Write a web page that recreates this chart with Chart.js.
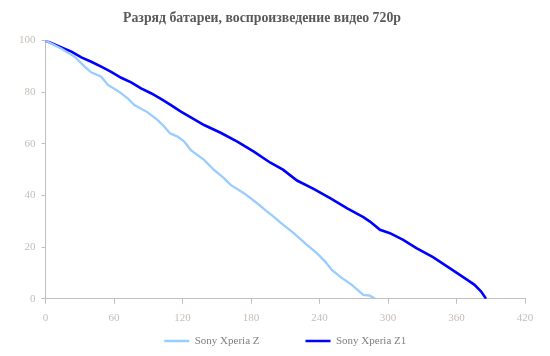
<!DOCTYPE html>
<html>
<head>
<meta charset="utf-8">
<script src="https://cdn.jsdelivr.net/npm/chart.js@4/dist/chart.umd.min.js"></script>
<style>
html,body{margin:0;padding:0;background:#fff;}
#wrap{width:550px;height:356px;}
</style>
</head>
<body>
<div id="wrap"><canvas id="c" width="550" height="356"></canvas></div>
<script>
const titleText = "Разряд батареи, воспроизведение видео 720p";
const seriesNames = ["Sony Xperia Z", "Sony Xperia Z1"];
const xTicks = [0, 60, 120, 180, 240, 300, 360, 420];
const yTicks = [0, 20, 40, 60, 80, 100];

const zMinutes = [0, 14, 25.6, 34.3, 40, 48.8, 54.7, 63.4, 72, 77.9, 89.5, 98.3, 104, 109, 115.7, 121.5, 127.3, 138.9, 147.6, 156.3, 162.2, 173.8, 185.4, 194.2, 201.4, 205.8, 217.4, 229, 237.7, 245, 250.8, 258, 268.3, 278.4, 284.2, 288.6];
const zLevel   = [100, 96.8, 93.7, 89.9, 87.7, 86, 82.8, 80.5, 77.6, 75, 72.2, 69.2, 66.7, 64.1, 62.8, 60.9, 57.6, 53.8, 49.9, 46.7, 44.1, 40.9, 37, 33.8, 31.2, 29.5, 25.4, 20.9, 17.7, 14.4, 11.2, 8.6, 5.4, 1.5, 1.2, 0];

const z1Minutes = [0, 14, 22.7, 31.4, 40.1, 48.8, 57.5, 66.3, 75, 83.7, 92.4, 101.1, 109.9, 118.6, 127.3, 138.9, 153.4, 168, 182.5, 197, 208, 220.3, 234.8, 249.3, 263.9, 278.4, 284.2, 293, 301.7, 313.3, 324.9, 339.4, 354, 368.5, 375.8, 381.6, 385.4, 386];
const z1Level   = [100, 97.3, 95.7, 93.5, 91.8, 89.9, 87.9, 85.6, 83.8, 81.5, 79.6, 77.4, 75, 72.5, 70.3, 67.3, 64.3, 60.9, 57, 52.7, 50, 45.8, 42.6, 39, 35.1, 31.6, 29.9, 26.7, 25.4, 22.8, 19.6, 16.1, 11.9, 7.6, 5.4, 2.8, 0.3, 0];

const toPts = (xs, ys) => xs.map((x, i) => ({x: x, y: ys[i]}));

const axisColor = '#bfbfbf';
const tickLabelColor = '#c4bdb6';
const serif = "'Liberation Serif', 'DejaVu Serif', serif";
const legendGap = 46;
const legendFont = 11;

// nudges the title/legend boxes after layout (Excel-like placement)
const boxNudge = {
  id: 'boxNudge',
  afterLayout(chart) {
    const t = chart.titleBlock;
    if (t) { t.left -= 7; t.right -= 7; }
    const l = chart.legend;
    if (l) { l.top = l.bottom - 15 - legendFont / 2 - legendGap; }
  }
};

new Chart(document.getElementById('c'), {
  type: 'line',
  data: {
    datasets: [
      {label: seriesNames[0], data: toPts(zMinutes, zLevel), borderColor: '#99ccff', backgroundColor: '#99ccff', borderWidth: 2.3, pointRadius: 0, tension: 0, fill: false},
      {label: seriesNames[1], data: toPts(z1Minutes, z1Level), borderColor: '#0000ff', backgroundColor: '#0000ff', borderWidth: 2.6, pointRadius: 0, tension: 0, fill: false}
    ]
  },
  plugins: [boxNudge],
  options: {
    responsive: false,
    animation: false,
    layout: {padding: {left: 13, right: 25, top: 4, bottom: 0}},
    plugins: {
      title: {display: true, text: titleText, color: '#595959', font: {family: serif, size: 13.8, weight: 'bold'}, padding: {top: 6, bottom: 14}},
      legend: {
        position: 'bottom',
        fullSize: false,
        maxHeight: 23,
        labels: {usePointStyle: true, pointStyle: 'line', pointStyleWidth: 25, color: '#7f7f7f', font: {family: serif, size: legendFont}, padding: legendGap}
      },
      tooltip: {enabled: false}
    },
    scales: {
      x: {
        type: 'linear', min: 0, max: 420,
        afterBuildTicks: (s) => { s.ticks = xTicks.map(v => ({value: v})); },
        grid: {drawOnChartArea: false, drawTicks: true, tickLength: 5, tickColor: axisColor},
        border: {display: true, color: axisColor, width: 1},
        ticks: {color: tickLabelColor, font: {family: serif, size: 11}, padding: 8, maxRotation: 0}
      },
      y: {
        type: 'linear', min: 0, max: 100,
        afterBuildTicks: (s) => { s.ticks = yTicks.map(v => ({value: v})); },
        grid: {drawOnChartArea: false, drawTicks: true, tickLength: 4, tickColor: axisColor},
        border: {display: true, color: axisColor, width: 1},
        ticks: {color: tickLabelColor, font: {family: serif, size: 11}, padding: 6}
      }
    }
  }
});
</script>
</body>
</html>
